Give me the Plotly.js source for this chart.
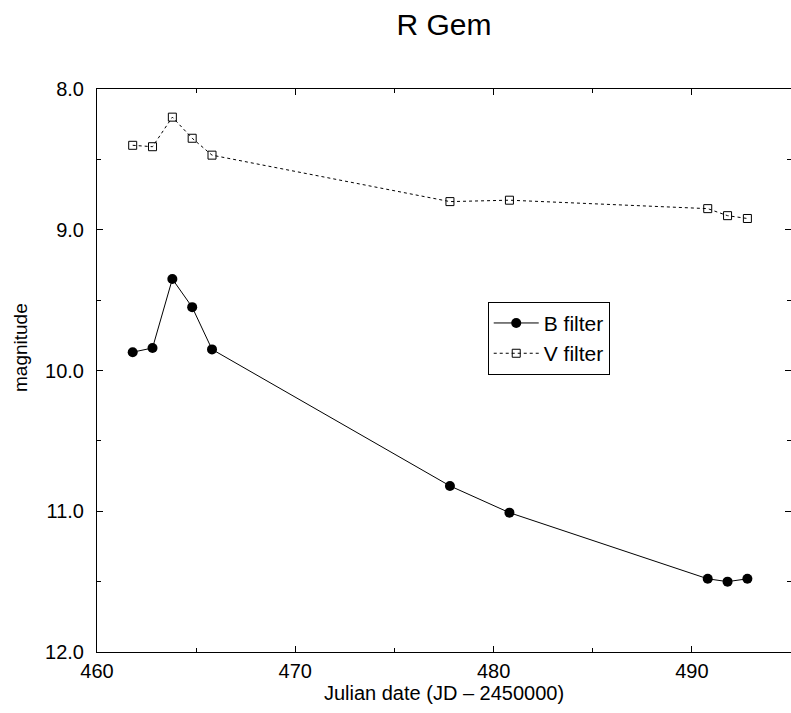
<!DOCTYPE html>
<html>
<head>
<meta charset="utf-8">
<script src="https://cdn.plot.ly/plotly-3.0.1.min.js"></script>
<style>html,body{margin:0;padding:0;background:#fff;}#chart{width:791px;height:713px;}</style>
</head>
<body>
<div id="chart"></div>
<script>
const julianDate = [461.8, 462.8, 463.8, 464.8, 465.8, 477.8, 480.8, 490.8, 491.8, 492.8];
const bFilter = [9.87, 9.84, 9.35, 9.55, 9.85, 10.82, 11.01, 11.48, 11.50, 11.48];
const vFilter = [8.40, 8.41, 8.20, 8.35, 8.47, 8.80, 8.79, 8.85, 8.90, 8.92];
const seriesNames = ["B filter", "V filter"];

const font = "Liberation Sans, Arial, Helvetica, sans-serif";

const traces = [
  {
    x: julianDate, y: bFilter, name: seriesNames[0], type: "scatter", mode: "lines+markers",
    line: {color: "#000", width: 1, dash: "solid"},
    marker: {symbol: "circle", size: 10, color: "#000"}
  },
  {
    x: julianDate, y: vFilter, name: seriesNames[1], type: "scatter", mode: "lines+markers",
    line: {color: "#000", width: 1, dash: "dot"},
    marker: {symbol: "square-open", size: 8, color: "#000", line: {width: 1, color: "#000"}}
  }
];

const axisCommon = {
  showline: true, linecolor: "#000", linewidth: 1, mirror: "ticks",
  ticks: "inside", ticklen: 6, tickwidth: 1, tickcolor: "#000",
  showgrid: false, zeroline: false,
  tickfont: {family: font, size: 20, color: "#000"}
};

const layout = {
  width: 791, height: 713,
  margin: {l: 97, r: 0, t: 89, b: 61},
  paper_bgcolor: "#fff", plot_bgcolor: "#fff",
  font: {family: font, color: "#000"},
  title: {text: "R Gem", font: {family: font, size: 30, color: "#000"}, x: 0.5, xref: "paper", y: 0.966, yref: "container", yanchor: "middle"},
  showlegend: true,
  legend: {
    x: 0.563, y: 0.622, xanchor: "left", yanchor: "top",
    bordercolor: "#000", borderwidth: 1, bgcolor: "#fff",
    font: {family: font, size: 21, color: "#000"},
    itemwidth: 45,
    tracegroupgap: 0
  },
  xaxis: Object.assign({}, axisCommon, {
    range: [460, 495], dtick: 10, tick0: 460,
    minor: {dtick: 5, ticks: "inside", ticklen: 4, tickcolor: "#000", showgrid: false},
    ticklabelstandoff: 1,
    title: {text: "Julian date (JD \u2013 2450000)", font: {family: font, size: 20, color: "#000"}, standoff: 2}
  }),
  yaxis: Object.assign({}, axisCommon, {
    range: [12, 8], autorange: false, dtick: 1, tick0: 8, tickformat: ".1f",
    minor: {dtick: 0.5, ticks: "inside", ticklen: 4, tickcolor: "#000", showgrid: false},
    ticklabelstandoff: 8
  }),
  annotations: [{
    text: "magnitude", xref: "paper", yref: "paper", x: -0.111, y: 0.5417,
    xanchor: "center", yanchor: "middle", textangle: -90, showarrow: false,
    font: {family: font, size: 19, color: "#000"}
  }]
};

Plotly.newPlot("chart", traces, layout, {displayModeBar: false, staticPlot: true});
</script>
</body>
</html>
